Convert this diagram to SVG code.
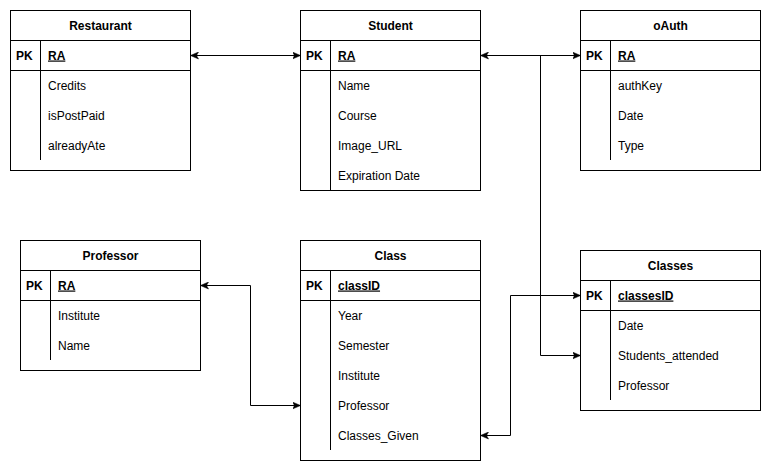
<svg xmlns="http://www.w3.org/2000/svg" width="771" height="471" viewBox="0 0 771 471">
<style>
.box{fill:#fff;stroke:#000;stroke-width:1}
.ln{stroke:#000;stroke-width:1;fill:none}
.t{font-family:"Liberation Sans",Arial,sans-serif;font-size:12px;fill:#000}
.b{font-weight:bold}
.h{font-weight:bold;text-anchor:middle}
.u{font-weight:bold;text-decoration:underline}
.c{stroke:#000;stroke-width:1;fill:none;marker-start:url(#arr);marker-end:url(#arr)}
.c1{stroke:#000;stroke-width:1;fill:none;marker-end:url(#arr)}
</style>
<defs>
<marker id="arr" viewBox="0 0 8 8" refX="8" refY="4" markerWidth="8" markerHeight="8" markerUnits="userSpaceOnUse" orient="auto-start-reverse">
<path d="M0,0.5 L8,4 L0,7.5 L2,4 Z" fill="#000" stroke="#000" stroke-width="0.5"/>
</marker>
</defs>
<rect width="771" height="471" fill="#fff"/>

<g id="Restaurant">
<rect class="box" x="10.5" y="10.5" width="180" height="160"/>
<line class="ln" x1="10.5" y1="40.5" x2="190.5" y2="40.5"/>
<line class="ln" x1="10.5" y1="70.5" x2="190.5" y2="70.5"/>
<line class="ln" x1="40.5" y1="40.5" x2="40.5" y2="160"/>
<text class="t h" x="100.5" y="29.5">Restaurant</text>
<text class="t b" x="16" y="59.5">PK</text>
<text class="t u" x="48" y="59.5">RA</text>
<text class="t" x="48" y="89.5">Credits</text>
<text class="t" x="48" y="119.5">isPostPaid</text>
<text class="t" x="48" y="149.5">alreadyAte</text>
</g>

<g id="Student">
<rect class="box" x="300.5" y="10.5" width="180" height="180"/>
<line class="ln" x1="300.5" y1="40.5" x2="480.5" y2="40.5"/>
<line class="ln" x1="300.5" y1="70.5" x2="480.5" y2="70.5"/>
<line class="ln" x1="330.5" y1="40.5" x2="330.5" y2="190.5"/>
<text class="t h" x="390.5" y="29.5">Student</text>
<text class="t b" x="306" y="59.5">PK</text>
<text class="t u" x="338" y="59.5">RA</text>
<text class="t" x="338" y="89.5">Name</text>
<text class="t" x="338" y="119.5">Course</text>
<text class="t" x="338" y="149.5">Image_URL</text>
<text class="t" x="338" y="179.5">Expiration Date</text>
</g>

<g id="oAuth">
<rect class="box" x="580.5" y="10.5" width="180" height="160"/>
<line class="ln" x1="580.5" y1="40.5" x2="760.5" y2="40.5"/>
<line class="ln" x1="580.5" y1="70.5" x2="760.5" y2="70.5"/>
<line class="ln" x1="610.5" y1="40.5" x2="610.5" y2="160"/>
<text class="t h" x="670.5" y="29.5">oAuth</text>
<text class="t b" x="586" y="59.5">PK</text>
<text class="t u" x="618" y="59.5">RA</text>
<text class="t" x="618" y="89.5">authKey</text>
<text class="t" x="618" y="119.5">Date</text>
<text class="t" x="618" y="149.5">Type</text>
</g>

<g id="Professor">
<rect class="box" x="20.5" y="240.5" width="180" height="130"/>
<line class="ln" x1="20.5" y1="270.5" x2="200.5" y2="270.5"/>
<line class="ln" x1="20.5" y1="300.5" x2="200.5" y2="300.5"/>
<line class="ln" x1="50.5" y1="270.5" x2="50.5" y2="360"/>
<text class="t h" x="110.5" y="259.5">Professor</text>
<text class="t b" x="26" y="289.5">PK</text>
<text class="t u" x="58" y="289.5">RA</text>
<text class="t" x="58" y="319.5">Institute</text>
<text class="t" x="58" y="349.5">Name</text>
</g>

<g id="Class">
<rect class="box" x="300.5" y="240.5" width="180" height="220"/>
<line class="ln" x1="300.5" y1="270.5" x2="480.5" y2="270.5"/>
<line class="ln" x1="300.5" y1="300.5" x2="480.5" y2="300.5"/>
<line class="ln" x1="330.5" y1="270.5" x2="330.5" y2="450"/>
<text class="t h" x="390.5" y="259.5">Class</text>
<text class="t b" x="306" y="289.5">PK</text>
<text class="t u" x="338" y="289.5">classID</text>
<text class="t" x="338" y="319.5">Year</text>
<text class="t" x="338" y="349.5">Semester</text>
<text class="t" x="338" y="379.5">Institute</text>
<text class="t" x="338" y="409.5">Professor</text>
<text class="t" x="338" y="439.5">Classes_Given</text>
</g>

<g id="Classes">
<rect class="box" x="580.5" y="250.5" width="180" height="160"/>
<line class="ln" x1="580.5" y1="280.5" x2="760.5" y2="280.5"/>
<line class="ln" x1="580.5" y1="310.5" x2="760.5" y2="310.5"/>
<line class="ln" x1="610.5" y1="280.5" x2="610.5" y2="400"/>
<text class="t h" x="670.5" y="269.5">Classes</text>
<text class="t b" x="586" y="299.5">PK</text>
<text class="t u" x="618" y="299.5">classesID</text>
<text class="t" x="618" y="329.5">Date</text>
<text class="t" x="618" y="359.5">Students_attended</text>
<text class="t" x="618" y="389.5">Professor</text>
</g>

<g id="connectors">
<path class="c" d="M190.5,55.5 L300.5,55.5"/>
<path class="c" d="M480.5,55.5 L580.5,55.5"/>
<path class="c1" d="M540.5,55.5 L540.5,355.5 L580.5,355.5"/>
<path class="c" d="M200.5,285.5 L250.5,285.5 L250.5,405.5 L300.5,405.5"/>
<path class="c" d="M480.5,435.5 L510.5,435.5 L510.5,295.5 L580.5,295.5"/>
</g>
</svg>
